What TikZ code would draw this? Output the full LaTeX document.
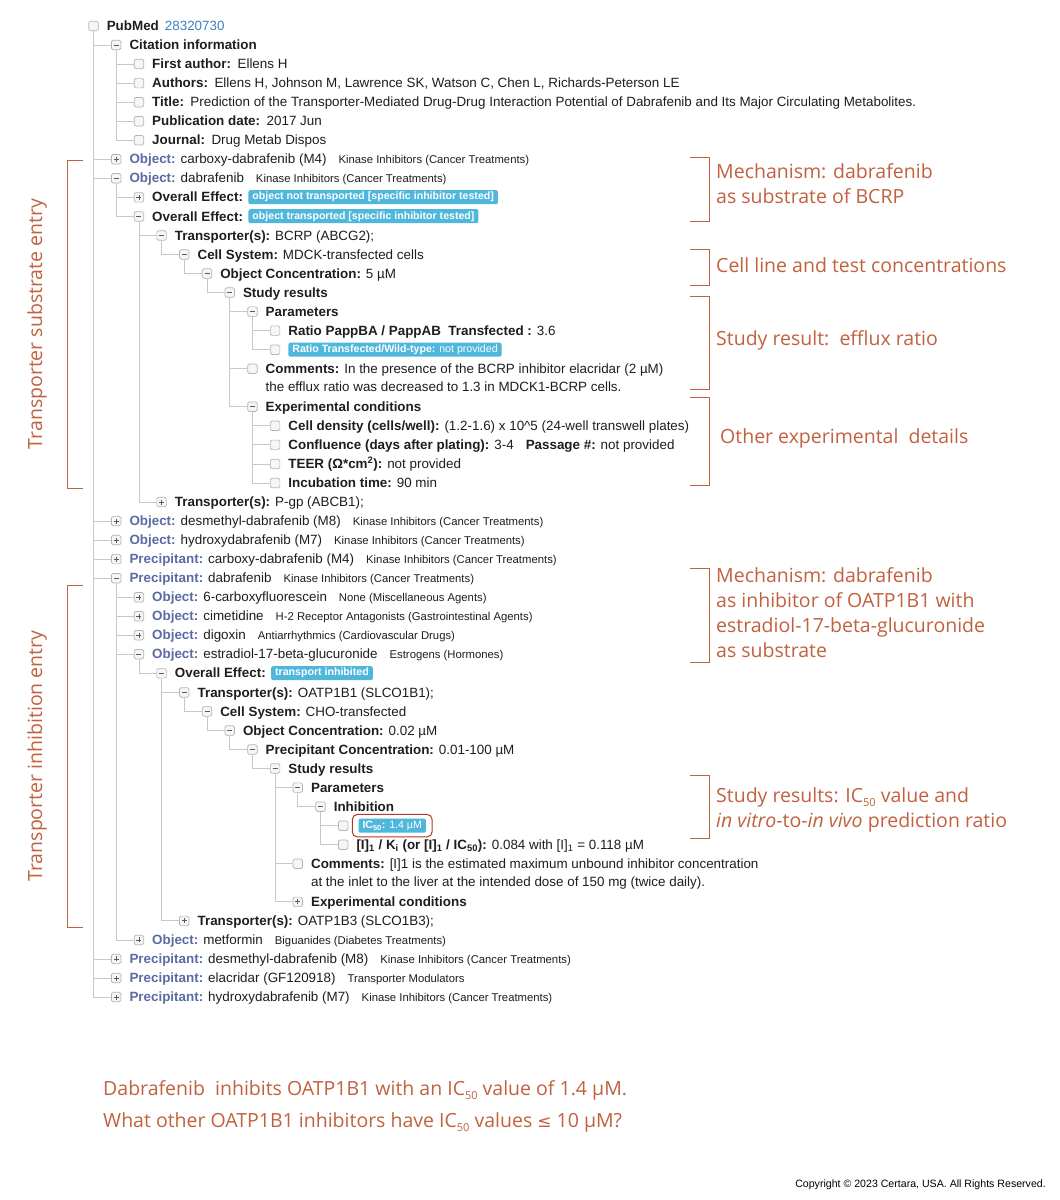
\documentclass[tikz,border=0pt]{standalone}
\usepackage{fontspec}
\setmainfont{Liberation Sans}
\newfontfamily\notefont{Open Sans}
\newfontfamily\symfont{DejaVu Sans}
\usetikzlibrary{positioning,fit}

\definecolor{ink}{HTML}{1E1E1E}
\definecolor{treegray}{HTML}{C8C8C8}
\definecolor{boxgray}{HTML}{B4B4B4}
\definecolor{boxfill}{HTML}{F6F6F6}
\definecolor{signgray}{HTML}{5A5A5A}
\definecolor{objblue}{HTML}{5B6BA3}
\definecolor{idblue}{HTML}{3F7FC0}
\definecolor{badgeblue}{HTML}{4FB6DC}
\definecolor{notecol}{HTML}{C2613F}
\definecolor{hlred}{HTML}{B4382C}

\tikzset{
  tbox/.style={draw=boxgray, fill=boxfill, rounded corners=1.5pt,
    minimum size=9.5pt, inner sep=0pt, line width=0.7pt},
  ebox/.style={tbox},
  mbox/.style={tbox, path picture={\draw[signgray,line width=0.8pt]
    ([xshift=-2.5pt]path picture bounding box.center) -- ++(5pt,0);}},
  pbox/.style={tbox, path picture={\draw[signgray,line width=0.8pt]
    ([xshift=-2.5pt]path picture bounding box.center) -- ++(5pt,0)
    ([yshift=-2.5pt]path picture bounding box.center) -- ++(0,5pt);}},
  rowtext/.style={anchor=base west, inner sep=0pt, text=ink,
    font=\fontsize{13.4}{15}\selectfont},
  badge/.style={fill=badgeblue, text=white, rounded corners=2pt,
    inner xsep=4pt, inner ysep=0pt, text height=7.8pt, text depth=2.2pt,
    minimum height=14pt, font=\fontsize{10.6}{12}\selectfont\bfseries},
  note/.style={text=notecol, inner sep=0pt, align=left,
    font=\notefont\fontsize{19.5}{25}\selectfont},
  brace/.style={draw=notecol, line width=1pt},
  tline/.style={draw=treegray, line width=0.8pt}
}

% one row of the tree: index, level, box style, text
\newcommand{\treerow}[4]{%
  \node[#3] (b#1) at ({93.5+22.7*#2},{26+19.04*#1}) {};
  \node[rowtext] (t#1) at ([xshift=8pt,yshift=-4.6pt]b#1.east) {#4};}
\newcommand{\lab}[1]{\textbf{#1}\hspace{6.5pt}}
\newcommand{\olab}[1]{\textcolor{objblue}{\textbf{#1}}\hspace{5pt}}
\newcommand{\cat}[1]{\hspace{12pt}{\fontsize{11.3}{12}\selectfont #1}}
\newcommand{\lowsub}[1]{\raisebox{-0.45ex}{\fontsize{11}{12}\selectfont #1}}

\begin{document}
\begin{tikzpicture}[x=1pt,y=-1pt]
\fill[white] (0,0) rectangle (1060,1200);
\useasboundingbox (0,0) rectangle (1060,1200);

% citation
\treerow{0}{0}{ebox}{\textbf{PubMed}\hspace{6pt}\textcolor{idblue}{28320730}}
\treerow{1}{1}{mbox}{\textbf{Citation information}}
\treerow{2}{2}{ebox}{\lab{First author:}Ellens H}
\treerow{3}{2}{ebox}{\lab{Authors:}Ellens H, Johnson M, Lawrence SK, Watson C, Chen L, Richards-Peterson LE}
\treerow{4}{2}{ebox}{\lab{Title:}Prediction of the Transporter-Mediated Drug-Drug Interaction Potential of Dabrafenib and Its Major Circulating Metabolites.}
\treerow{5}{2}{ebox}{\lab{Publication date:}2017 Jun}
\treerow{6}{2}{ebox}{\lab{Journal:}Drug Metab Dispos}

% substrate entry
\treerow{7}{1}{pbox}{\olab{Object:}carboxy-dabrafenib (M4)\cat{Kinase Inhibitors (Cancer Treatments)}}
\treerow{8}{1}{mbox}{\olab{Object:}dabrafenib\cat{Kinase Inhibitors (Cancer Treatments)}}
\treerow{9}{2}{pbox}{\textbf{Overall Effect:}}
\treerow{10}{2}{mbox}{\textbf{Overall Effect:}}
\treerow{11}{3}{mbox}{\textbf{Transporter(s):} BCRP (ABCG2);}
\treerow{12}{4}{mbox}{\textbf{Cell System:} MDCK-transfected cells}
\treerow{13}{5}{mbox}{\textbf{Object Concentration:} 5 µM}
\treerow{14}{6}{mbox}{\textbf{Study results}}
\treerow{15}{7}{mbox}{\textbf{Parameters}}
\treerow{16}{8}{ebox}{\textbf{Ratio PappBA / PappAB\ \ Transfected :} 3.6}
\treerow{17}{8}{ebox}{}
\treerow{18}{7}{ebox}{\textbf{Comments:} In the presence of the BCRP inhibitor elacridar (2 µM)}
\node[rowtext] (t19) at ([yshift=-18pt]t18.base west) {the efflux ratio was decreased to 1.3 in MDCK1-BCRP cells.};
\treerow{20}{7}{mbox}{\textbf{Experimental conditions}}
\treerow{21}{8}{ebox}{\textbf{Cell density (cells/well):} (1.2-1.6) x 10\textasciicircum 5 (24-well transwell plates)}
\treerow{22}{8}{ebox}{\textbf{Confluence (days after plating):} 3-4\hspace{12pt}\textbf{Passage \#:} not provided}
\treerow{23}{8}{ebox}{\textbf{TEER (Ω*cm\textsuperscript{2}):} not provided}
\treerow{24}{8}{ebox}{\textbf{Incubation time:} 90 min}
\treerow{25}{3}{pbox}{\textbf{Transporter(s):} P-gp (ABCB1);}
\treerow{26}{1}{pbox}{\olab{Object:}desmethyl-dabrafenib (M8)\cat{Kinase Inhibitors (Cancer Treatments)}}
\treerow{27}{1}{pbox}{\olab{Object:}hydroxydabrafenib (M7)\cat{Kinase Inhibitors (Cancer Treatments)}}
\treerow{28}{1}{pbox}{\olab{Precipitant:}carboxy-dabrafenib (M4)\cat{Kinase Inhibitors (Cancer Treatments)}}

% inhibition entry
\treerow{29}{1}{mbox}{\olab{Precipitant:}dabrafenib\cat{Kinase Inhibitors (Cancer Treatments)}}
\treerow{30}{2}{pbox}{\olab{Object:}6-carboxyfluorescein\cat{None (Miscellaneous Agents)}}
\treerow{31}{2}{pbox}{\olab{Object:}cimetidine\cat{H-2 Receptor Antagonists (Gastrointestinal Agents)}}
\treerow{32}{2}{pbox}{\olab{Object:}digoxin\cat{Antiarrhythmics (Cardiovascular Drugs)}}
\treerow{33}{2}{mbox}{\olab{Object:}estradiol-17-beta-glucuronide\cat{Estrogens (Hormones)}}
\treerow{34}{3}{mbox}{\textbf{Overall Effect:}}
\treerow{35}{4}{mbox}{\textbf{Transporter(s):} OATP1B1 (SLCO1B1);}
\treerow{36}{5}{mbox}{\textbf{Cell System:} CHO-transfected}
\treerow{37}{6}{mbox}{\textbf{Object Concentration:} 0.02 µM}
\treerow{38}{7}{mbox}{\textbf{Precipitant Concentration:} 0.01-100 µM}
\treerow{39}{8}{mbox}{\textbf{Study results}}
\treerow{40}{9}{mbox}{\textbf{Parameters}}
\treerow{41}{10}{mbox}{\textbf{Inhibition}}
\treerow{42}{11}{ebox}{}
\treerow{43}{11}{ebox}{\textbf{[I]\textsubscript{1} / K\textsubscript{i} (or [I]\textsubscript{1} / IC\textsubscript{50}):} 0.084 with [I]\textsubscript{1} = 0.118 µM}
\treerow{44}{9}{ebox}{\textbf{Comments:} [I]1 is the estimated maximum unbound inhibitor concentration}
\node[rowtext] (t45) at ([yshift=-18pt]t44.base west) {at the inlet to the liver at the intended dose of 150 mg (twice daily).};
\treerow{46}{9}{pbox}{\textbf{Experimental conditions}}
\treerow{47}{4}{pbox}{\textbf{Transporter(s):} OATP1B3 (SLCO1B3);}
\treerow{48}{2}{pbox}{\olab{Object:}metformin\cat{Biguanides (Diabetes Treatments)}}
\treerow{49}{1}{pbox}{\olab{Precipitant:}desmethyl-dabrafenib (M8)\cat{Kinase Inhibitors (Cancer Treatments)}}
\treerow{50}{1}{pbox}{\olab{Precipitant:}elacridar (GF120918)\cat{Transporter Modulators}}
\treerow{51}{1}{pbox}{\olab{Precipitant:}hydroxydabrafenib (M7)\cat{Kinase Inhibitors (Cancer Treatments)}}

% badges
\node[badge, anchor=west] (g9) at ([xshift=5pt]t9.east) {object not transported [specific inhibitor tested]};
\node[badge, anchor=west] (g10) at ([xshift=5pt]t10.east) {object transported [specific inhibitor tested]};
\node[badge, anchor=west] (g17) at ([xshift=8pt]b17.east) {Ratio Transfected/Wild-type: \mdseries not provided};
\node[badge, anchor=west] (g34) at ([xshift=5pt]t34.east) {transport inhibited};
\node[badge, anchor=west] (g42) at ([xshift=10pt]b42.east) {IC\textsubscript{50}: \mdseries 1.4 µM};
\node[draw=hlred, rounded corners=5pt, line width=1pt, inner xsep=6pt,
  inner ysep=4pt, fit=(g42)] (hl) {};

% tree lines
\foreach \p/\c in {0/1,0/7,0/8,0/26,0/27,0/28,0/29,0/49,0/50,0/51,
    1/2,1/3,1/4,1/5,1/6,8/9,8/10,10/11,10/25,11/12,12/13,13/14,
    14/15,14/18,14/20,15/16,15/17,20/21,20/22,20/23,20/24,
    29/30,29/31,29/32,29/33,29/48,33/34,34/35,34/47,35/36,36/37,
    37/38,38/39,39/40,39/44,39/46,40/41,41/42,41/43}
  \draw[tline] (b\p.south) |- (b\c.west);

% notes on the right
\draw[brace] (690,157) -- (709,157) -- (709,221) -- (690,221);
\node[note, anchor=west] (n1) at (716,184) {Mechanism: dabrafenib\\as substrate of BCRP};
\draw[brace] (690,249) -- (709,249) -- (709,285) -- (690,285);
\node[note, anchor=base west] (n2) at (716,272) {Cell line and test concentrations};
\draw[brace] (690,296) -- (709,296) -- (709,389) -- (690,389);
\node[note, anchor=base west] (n3) at (716,345) {Study result:\ \ efflux ratio};
\draw[brace] (690,397) -- (709,397) -- (709,485) -- (690,485);
\node[note, anchor=base west] (n4) at (720,443) {Other experimental\ \ details};
\draw[brace] (690,568) -- (709,568) -- (709,662) -- (690,662);
\node[note, anchor=west] (n5) at (716,613) {Mechanism: dabrafenib\\as inhibitor of OATP1B1 with\\estradiol-17-beta-glucuronide\\as substrate};
\draw[brace] (690,775) -- (709,775) -- (709,838) -- (690,838);
\node[note, anchor=west] (n6) at (716,809.5) {Study results: IC\lowsub{50} value and\\\textit{in vitro}-to-\textit{in vivo} prediction ratio};

% notes on the left
\draw[brace] (83,160) -- (67,160) -- (67,488) -- (83,488);
\node[note, rotate=90] (s1) at (37,324) {Transporter substrate entry};
\draw[brace] (83,585) -- (67,585) -- (67,927) -- (83,927);
\node[note, rotate=90] (s2) at (37,756) {Transporter inhibition entry};

% question and copyright
\node[note, anchor=base west] (q1) at (103,1095) {Dabrafenib\ \ inhibits OATP1B1 with an IC\lowsub{50} value of 1.4 µM.};
\node[note, anchor=base west] (q2) at (103,1127) {What other OATP1B1 inhibitors have IC\lowsub{50} values {\symfont\fontsize{17}{20}\selectfont ≤} 10 µM?};
\node[anchor=base east, inner sep=0pt, text=black, font=\fontsize{10.6}{12}\selectfont] (cr) at (1046,1187) {Copyright © 2023 Certara, USA. All Rights Reserved.};
\end{tikzpicture}
\end{document}
